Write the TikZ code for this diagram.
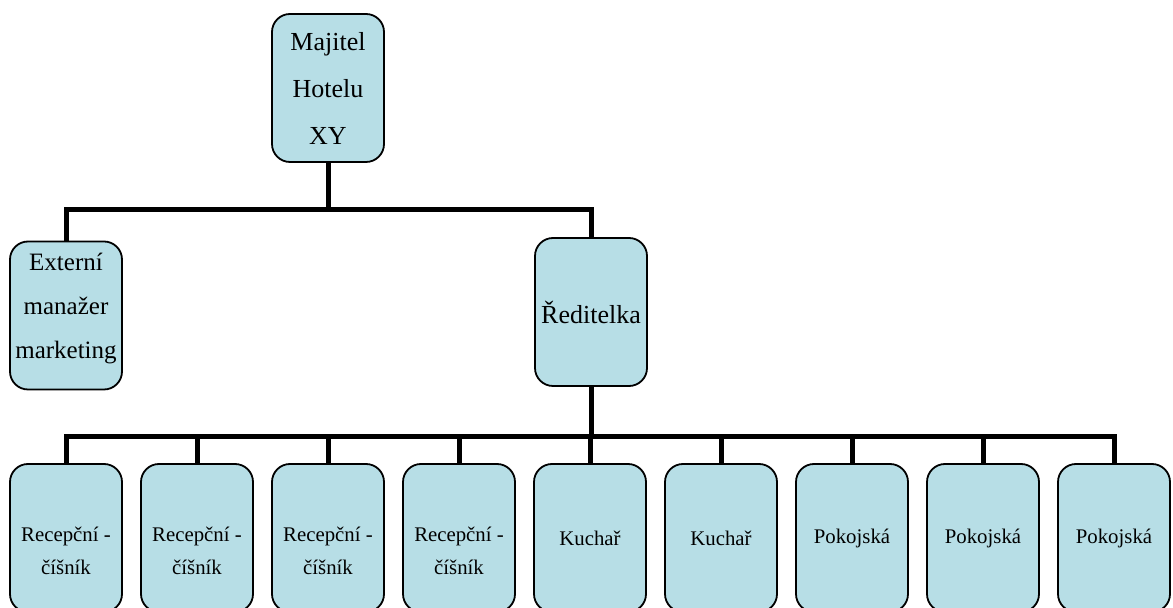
\documentclass[tikz,border=0pt]{standalone}
\usepackage{fontspec}
\setmainfont{Liberation Serif}
\usepackage{xcolor}
\usetikzlibrary{positioning,calc}
\definecolor{boxblue}{RGB}{183,222,230}

\begin{document}
\begin{tikzpicture}[x=0.5pt,y=-0.5pt,
    box/.style={draw, line width=0.9pt, fill=boxblue, rounded corners=9pt,
        minimum width=56pt, minimum height=74pt, inner sep=1pt, align=center},
    big/.style={font=\fontsize{13}{23.5}\selectfont},
    mid/.style={font=\fontsize{12.5}{22}\selectfont},
    small/.style={font=\fontsize{10.4}{16.5}\selectfont},
    conn/.style={line width=2.5pt}]
\useasboundingbox (0,0) rectangle (1173,608);
\clip (0,0) rectangle (1173,608);

% top levels
\node[box,big] (majitel) at (328,88) {Majitel\\Hotelu\\XY};
\node[box,mid] (externi) at (66,315.5) {Externí\\manažer\\marketing\\[-12pt]\mbox{}};
\node[box,big] (reditelka) at (591,312) {Ředitelka};
\coordinate (bar1) at (328,210);
\coordinate (bar2) at (591,437);

% staff row
\foreach \name/\txt [count=\i from 0] in {
    rec1/{\mbox{}\\[4pt]Recepční -\\číšník}, rec2/{\mbox{}\\[4pt]Recepční -\\číšník},
    rec3/{\mbox{}\\[4pt]Recepční -\\číšník}, rec4/{\mbox{}\\[4pt]Recepční -\\číšník},
    kuch1/Kuchař, kuch2/Kuchař, pok1/Pokojská, pok2/Pokojská, pok3/Pokojská}
    \node[box,small] (\name) at (66+131*\i,538) {\txt};

% connectors
\draw[conn] (majitel.south) -- (majitel.south |- bar1);
\draw[conn] (externi.north) -- (externi.north |- bar1) -- (reditelka.north |- bar1) -- (reditelka.north);
\draw[conn] (reditelka.south) -- (reditelka.south |- bar2);
\draw[conn] (rec1.north) -- (rec1.north |- bar2) -- (pok3.north |- bar2) -- (pok3.north);
\foreach \name in {rec2,rec3,rec4,kuch1,kuch2,pok1,pok2}
    \draw[conn] (\name.north) -- (\name.north |- bar2);
\end{tikzpicture}
\end{document}
